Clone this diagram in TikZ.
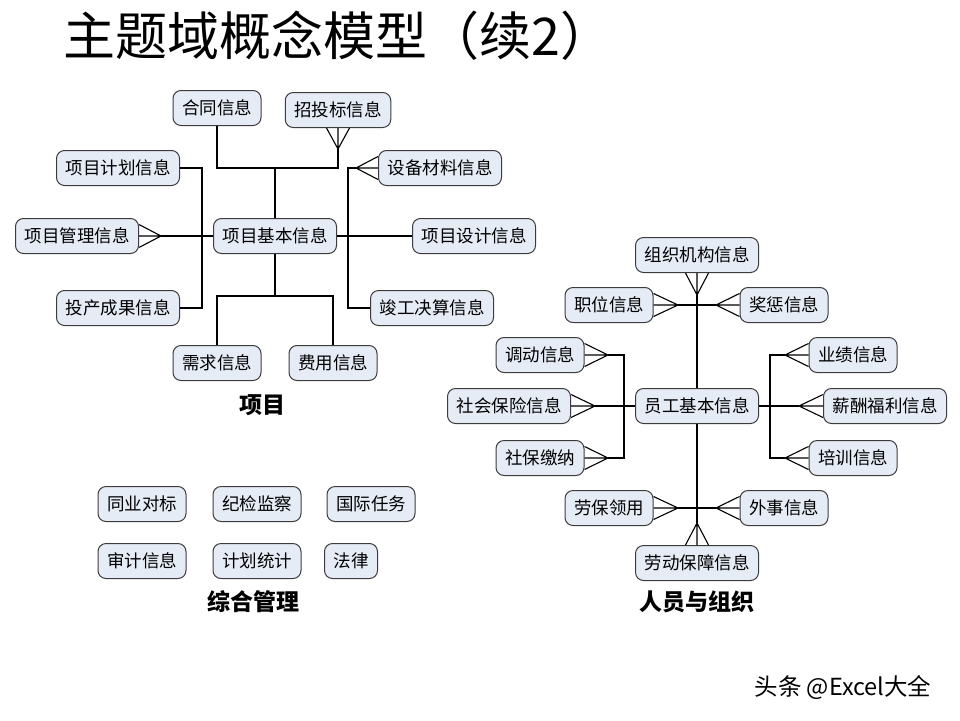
\documentclass[tikz,border=0pt]{standalone}
\usepackage{fontspec}
\setmainfont{Noto Sans CJK SC}
\definecolor{boxfill}{RGB}{230,236,246}
\definecolor{boxline}{RGB}{60,60,60}
\begin{document}
\begin{tikzpicture}[x=1pt, y=-1pt]
	\tikzset{ent/.style={rounded corners=8pt, draw=boxline, fill=boxfill, line width=1pt, minimum height=35pt, inner xsep=9pt, inner ysep=0pt, font=\fontsize{17.5}{20}\selectfont},
		lbl/.style={font=\fontsize{23}{26}\selectfont\bfseries},
		ln/.style={line width=1.1pt, black}};
	\useasboundingbox (0,0) rectangle (960,720);

	\node[anchor=west, font=\fontsize{52}{56}\selectfont] (title) at (60,36) {主题域概念模型（续2）};
	\node[font=\fontsize{23.5}{26}\selectfont] (mark) at (843,688) {头条 @Excel大全};

	% project
	\node[ent] (ht) at (217,108) {合同信息};
	\node[ent] (zt) at (338,110) {招投标信息};
	\node[ent] (jh) at (118,168) {项目计划信息};
	\node[ent] (gl) at (77,236) {项目管理信息};
	\node[ent] (tc) at (118,308) {投产成果信息};
	\node[ent] (jb) at (275,236) {项目基本信息};
	\node[ent] (sb) at (440,168) {设备材料信息};
	\node[ent] (sj) at (474,236) {项目设计信息};
	\node[ent] (jg) at (432,308) {竣工决算信息};
	\node[ent] (xq) at (217,363) {需求信息};
	\node[ent] (fy) at (333,363) {费用信息};
	\node[lbl] (xm) at (262,405) {项目};

	\coordinate (tj) at (275,168);
	\coordinate (bj) at (275,296);
	\coordinate (lbus) at (202,236);
	\coordinate (rbus) at (348,236);
	\coordinate (zttip) at (338,149);
	\coordinate (gltip) at (161,236);
	\coordinate (sbtip) at (356,168);

	\draw[ln] (ht.south) |- (tj) -| (zttip);
	\draw[ln] (tj) -- (jb.north);
	\draw[ln] (zttip) -- (zt.south) (zttip) -- ([xshift=-11.5pt]zt.south) (zttip) -- ([xshift=11.5pt]zt.south);
	\draw[ln] (jh.east) -| (lbus) |- (tc.east);
	\draw[ln] (gltip) -- (jb.west);
	\draw[ln] (gltip) -- (gl.east) (gltip) -- ([yshift=11.5pt]gl.east) (gltip) -- ([yshift=-11.5pt]gl.east);
	\draw[ln] (sbtip) -| (rbus) |- (jg.west);
	\draw[ln] (sbtip) -- (sb.west) (sbtip) -- ([yshift=11.5pt]sb.west) (sbtip) -- ([yshift=-11.5pt]sb.west);
	\draw[ln] (jb.east) -- (sj.west);
	\draw[ln] (jb.south) -- (bj);
	\draw[ln] (xq.north) |- (bj) -| (fy.north);

	% general management
	\node[ent] (ty) at (142,504) {同业对标};
	\node[ent] (jj) at (257,504) {纪检监察};
	\node[ent] (gj) at (371,504) {国际任务};
	\node[ent] (sjx) at (142,561) {审计信息};
	\node[ent] (tj2) at (257,561) {计划统计};
	\node[ent] (fl) at (351,561) {法律};
	\node[lbl] (zh) at (253,602) {综合管理};

	% staff and organisation
	\node[ent] (zz) at (697,255) {组织机构信息};
	\node[ent] (zw) at (609,305) {职位信息};
	\node[ent] (jc) at (784,305) {奖惩信息};
	\node[ent] (dd) at (540,355) {调动信息};
	\node[ent] (sh) at (509,406) {社会保险信息};
	\node[ent] (jn) at (540,458) {社保缴纳};
	\node[ent] (yg) at (697,406) {员工基本信息};
	\node[ent] (yj) at (853,355) {业绩信息};
	\node[ent] (xc) at (885,406) {薪酬福利信息};
	\node[ent] (px) at (853,458) {培训信息};
	\node[ent] (lb) at (609,508) {劳保领用};
	\node[ent] (ws) at (784,508) {外事信息};
	\node[ent] (ld) at (697,563) {劳动保障信息};
	\node[lbl] (ry) at (697,602) {人员与组织};

	\coordinate (zztip) at (697,295);
	\coordinate (ldtip) at (697,523);
	\coordinate (zwtip) at (678,305);
	\coordinate (jctip) at (716,305);
	\coordinate (lbtip) at (678,508);
	\coordinate (wstip) at (716,508);
	\coordinate (ddtip) at (608,355);
	\coordinate (shtip) at (595,406);
	\coordinate (jntip) at (608,458);
	\coordinate (yjtip) at (785,355);
	\coordinate (xctip) at (799,406);
	\coordinate (pxtip) at (785,458);
	\coordinate (lb2) at (624,406);
	\coordinate (rb2) at (770,406);

	\draw[ln] (zztip) -- (yg.north);
	\draw[ln] (yg.south) -- (ldtip);
	\draw[ln] (zwtip) -- (jctip);
	\draw[ln] (lbtip) -- (wstip);
	\draw[ln] (ddtip) -| (lb2) |- (jntip);
	\draw[ln] (shtip) -- (yg.west);
	\draw[ln] (yjtip) -| (rb2) |- (pxtip);
	\draw[ln] (yg.east) -- (xctip);

	\draw[ln] (zztip) -- (zz.south) (zztip) -- ([xshift=-11.5pt]zz.south) (zztip) -- ([xshift=11.5pt]zz.south);
	\draw[ln] (ldtip) -- (ld.north) (ldtip) -- ([xshift=-11.5pt]ld.north) (ldtip) -- ([xshift=11.5pt]ld.north);
	\draw[ln] (zwtip) -- (zw.east) (zwtip) -- ([yshift=11.5pt]zw.east) (zwtip) -- ([yshift=-11.5pt]zw.east);
	\draw[ln] (lbtip) -- (lb.east) (lbtip) -- ([yshift=11.5pt]lb.east) (lbtip) -- ([yshift=-11.5pt]lb.east);
	\draw[ln] (ddtip) -- (dd.east) (ddtip) -- ([yshift=11.5pt]dd.east) (ddtip) -- ([yshift=-11.5pt]dd.east);
	\draw[ln] (shtip) -- (sh.east) (shtip) -- ([yshift=11.5pt]sh.east) (shtip) -- ([yshift=-11.5pt]sh.east);
	\draw[ln] (jntip) -- (jn.east) (jntip) -- ([yshift=11.5pt]jn.east) (jntip) -- ([yshift=-11.5pt]jn.east);
	\draw[ln] (jctip) -- (jc.west) (jctip) -- ([yshift=11.5pt]jc.west) (jctip) -- ([yshift=-11.5pt]jc.west);
	\draw[ln] (wstip) -- (ws.west) (wstip) -- ([yshift=11.5pt]ws.west) (wstip) -- ([yshift=-11.5pt]ws.west);
	\draw[ln] (yjtip) -- (yj.west) (yjtip) -- ([yshift=11.5pt]yj.west) (yjtip) -- ([yshift=-11.5pt]yj.west);
	\draw[ln] (xctip) -- (xc.west) (xctip) -- ([yshift=11.5pt]xc.west) (xctip) -- ([yshift=-11.5pt]xc.west);
	\draw[ln] (pxtip) -- (px.west) (pxtip) -- ([yshift=11.5pt]px.west) (pxtip) -- ([yshift=-11.5pt]px.west);
\end{tikzpicture}
\end{document}
